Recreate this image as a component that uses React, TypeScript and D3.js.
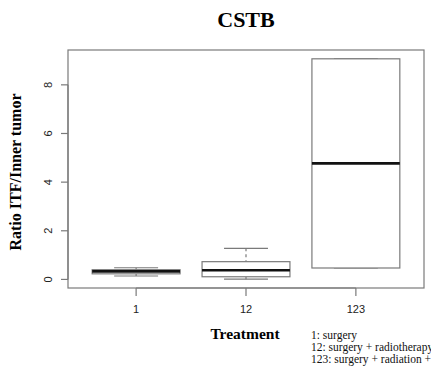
import React from "react";
import * as d3 from "d3";

// Box-plot summary per treatment group: whisker ends, quartiles, median
const categories = ["1", "12", "123"];
const whiskerLow = [0.14, 0.01, 0.47];
const quartile1 = [0.23, 0.11, 0.47];
const medians = [0.33, 0.38, 4.77];
const quartile3 = [0.4, 0.73, 9.07];
const whiskerHigh = [0.48, 1.28, 9.07];
const yTicks = [0, 2, 4, 6, 8];
const legendLines = ["1: surgery", "12: surgery + radiotherapy", "123: surgery + radiation + chemotherapy"];

const W = 431;
const H = 389;
const plot = { left: 68, right: 424, top: 50, bottom: 288 };
const serif = "'Liberation Serif', 'Times New Roman', serif";
const sans = "'Liberation Sans', Arial, sans-serif";
const lineCol = "#7a7a7a";

export default function App() {
  const lo = d3.min(whiskerLow)!;
  const hi = d3.max(whiskerHigh)!;
  const pad = (hi - lo) * 0.04;
  const y = d3.scaleLinear().domain([lo - pad, hi + pad]).range([plot.bottom, plot.top]);
  const n = categories.length;
  const xPad = n * 0.04;
  const x = d3.scaleLinear().domain([0.5 - xPad, n + 0.5 + xPad]).range([plot.left, plot.right]);
  const boxW = x(0.8) - x(0);
  const capW = boxW / 2;

  return (
    <svg width={W} height={H} style={{ position: "absolute", left: 0, top: 0, background: "#fff" }}>
      <text x={(plot.left + plot.right) / 2} y={27} textAnchor="middle" fontFamily={serif} fontWeight="bold" fontSize={22}>
        CSTB
      </text>

      {/* plot frame */}
      <rect x={plot.left} y={plot.top} width={plot.right - plot.left} height={plot.bottom - plot.top} fill="none" stroke={lineCol} strokeWidth={1.2} />

      {/* y axis */}
      <line x1={plot.left} x2={plot.left} y1={y(yTicks[0])} y2={y(yTicks[yTicks.length - 1])} stroke={lineCol} strokeWidth={1.2} />
      {yTicks.map((t) => (
        <g key={t}>
          <line x1={plot.left - 7} x2={plot.left} y1={y(t)} y2={y(t)} stroke={lineCol} strokeWidth={1.2} />
          <text transform={`translate(52,${y(t)}) rotate(-90)`} textAnchor="middle" fontFamily={sans} fontSize={11} fill="#222">
            {t}
          </text>
        </g>
      ))}
      <text transform={`translate(21,${(plot.top + plot.bottom) / 2 + 3}) rotate(-90)`} textAnchor="middle" fontFamily={serif} fontWeight="bold" fontSize={16}>
        Ratio ITF/Inner tumor
      </text>

      {/* x axis */}
      <line x1={x(1)} x2={x(n)} y1={plot.bottom} y2={plot.bottom} stroke={lineCol} strokeWidth={1.2} />
      {categories.map((c, i) => (
        <g key={c}>
          <line x1={x(i + 1)} x2={x(i + 1)} y1={plot.bottom} y2={plot.bottom + 8} stroke={lineCol} strokeWidth={1.2} />
          <text x={x(i + 1)} y={313} textAnchor="middle" fontFamily={sans} fontSize={11} fill="#222">
            {c}
          </text>
        </g>
      ))}
      <text x={245} y={339} textAnchor="middle" fontFamily={serif} fontWeight="bold" fontSize={15.5}>
        Treatment
      </text>
      {legendLines.map((l, i) => (
        <text key={l} x={311} y={339 + i * 12} fontFamily={serif} fontSize={11.5} fill="#111">
          {l}
        </text>
      ))}

      {/* boxes */}
      {categories.map((c, i) => {
        const cx = x(i + 1);
        return (
          <g key={c}>
            <line x1={cx} x2={cx} y1={y(whiskerHigh[i])} y2={y(quartile3[i])} stroke={lineCol} strokeWidth={1.2} strokeDasharray="3,3" />
            <line x1={cx} x2={cx} y1={y(quartile1[i])} y2={y(whiskerLow[i])} stroke={lineCol} strokeWidth={1.2} strokeDasharray="3,3" />
            <line x1={cx - capW / 2} x2={cx + capW / 2} y1={y(whiskerHigh[i])} y2={y(whiskerHigh[i])} stroke={lineCol} strokeWidth={1.2} />
            <line x1={cx - capW / 2} x2={cx + capW / 2} y1={y(whiskerLow[i])} y2={y(whiskerLow[i])} stroke={lineCol} strokeWidth={1.2} />
            <rect x={cx - boxW / 2} y={y(quartile3[i])} width={boxW} height={y(quartile1[i]) - y(quartile3[i])} fill="#fff" stroke={lineCol} strokeWidth={1.2} />
            <line x1={cx - boxW / 2} x2={cx + boxW / 2} y1={y(medians[i])} y2={y(medians[i])} stroke="#111" strokeWidth={2.6} />
          </g>
        );
      })}
    </svg>
  );
}
